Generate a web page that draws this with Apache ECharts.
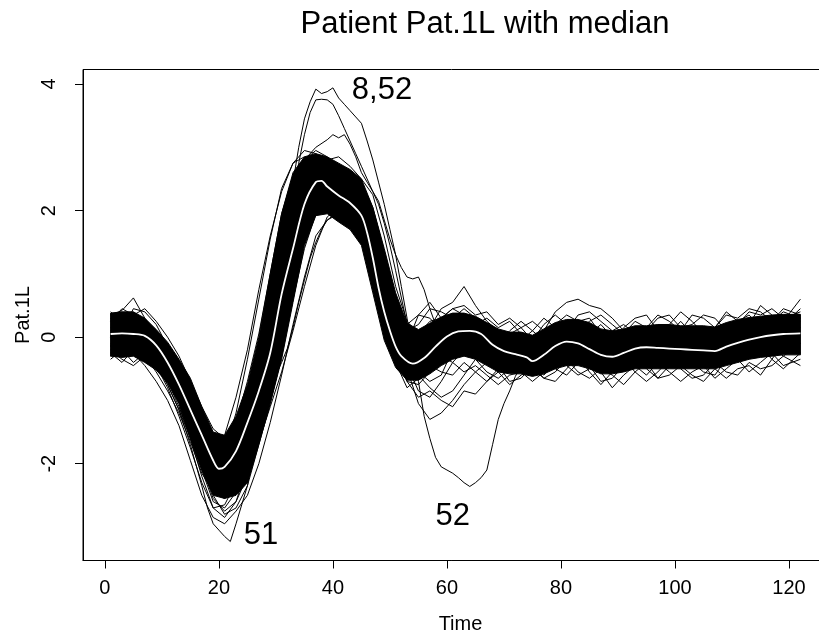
<!DOCTYPE html>
<html><head><meta charset="utf-8">
<script src="https://cdn.jsdelivr.net/npm/echarts@6/dist/echarts.min.js"></script>
<style>html,body{margin:0;padding:0;background:#fff}#c{width:819px;height:637px}</style>
</head><body><div id="c"></div>
<script>
const FONT = '"Liberation Sans", Arial, Helvetica, sans-serif';
const xTicks = [0,20,40,60,80,100,120];
const yTicks = [-2,0,2,4];

// common time grid for full curves and the dense band
const timeGrid = [1,3,5,7,9,11,13,15,17,19,21,23,25,27,29,31,33,35,37,39,41,43,45,47,49,51,53,55,57,59,61,63,65,67,69,71,73,75,77,79,81,83,85,87,89,91,93,95,97,99,101,103,105,107,109,111,113,115,117,119,122];

// dense core of the curve bundle (lower / upper envelope)
const bandLow = [-0.30,-0.32,-0.30,-0.40,-0.52,-0.72,-1.05,-1.60,-2.10,-2.50,
-2.55,-2.50,-2.30,-1.70,-1.05,-0.35,0.55,1.45,1.92,1.95,
1.82,1.70,1.45,0.70,-0.05,-0.48,-0.68,-0.68,-0.58,-0.45,
-0.35,-0.30,-0.35,-0.45,-0.55,-0.58,-0.58,-0.62,-0.58,-0.50,
-0.45,-0.45,-0.50,-0.58,-0.58,-0.55,-0.50,-0.50,-0.50,-0.50,
-0.50,-0.50,-0.50,-0.50,-0.45,-0.40,-0.35,-0.32,-0.30,-0.28,
-0.28];
const bandHigh = [0.38,0.40,0.40,0.30,0.12,-0.08,-0.35,-0.65,-1.10,-1.50,
-1.55,-1.25,-0.75,0.00,1.00,1.95,2.60,2.85,2.90,2.85,
2.75,2.65,2.50,2.05,1.40,0.70,0.22,0.12,0.22,0.32,
0.38,0.38,0.33,0.23,0.13,0.08,0.08,0.03,0.13,0.23,
0.28,0.28,0.23,0.13,0.10,0.13,0.18,0.18,0.20,0.20,
0.18,0.18,0.18,0.16,0.23,0.28,0.31,0.33,0.35,0.36,
0.36];

// individual curves on the time grid
const curveA = [0.35,0.42,0.62,0.30,0.05,-0.25,-0.60,-1.05,-1.50,-1.75,
-1.55,-0.95,-0.20,0.75,1.60,2.30,2.75,2.95,2.90,2.75,
2.55,2.30,1.70,0.90,0.20,-0.25,-0.10,0.35,0.30,0.10,
-0.05,-0.15,-0.30,-0.35,-0.20,0.05,0.15,-0.05,-0.20,-0.35,
-0.45,-0.20,0.05,0.20,0.00,-0.25,-0.40,-0.30,-0.05,0.15,
0.10,-0.15,-0.35,-0.20,0.10,0.25,0.35,0.15,-0.10,0.05,
0.30];
const curveB = [-0.25,-0.40,-0.20,-0.10,-0.35,-0.65,-1.05,-1.50,-2.00,-2.50,
-2.80,-2.70,-2.35,-1.70,-1.05,-0.30,0.60,1.40,1.95,2.15,
2.10,2.00,1.85,1.40,0.70,0.10,-0.45,-0.85,-0.95,-0.70,
-0.40,-0.20,-0.35,-0.55,-0.65,-0.50,-0.30,-0.45,-0.60,-0.40,
-0.15,-0.25,-0.45,-0.70,-0.65,-0.45,-0.30,-0.50,-0.65,-0.45,
-0.25,-0.40,-0.55,-0.60,-0.35,-0.15,-0.30,-0.10,0.05,-0.20,
-0.10];
const curveC = [0.30,0.10,0.45,0.40,0.20,-0.15,-0.45,-0.85,-1.25,-1.70,
-1.90,-1.55,-0.90,-0.15,0.80,1.75,2.45,2.80,2.75,2.60,
2.70,2.55,2.35,1.85,1.05,0.35,0.10,0.20,0.45,0.40,
0.30,0.45,0.30,0.05,-0.10,0.10,0.25,0.10,-0.05,0.20,
0.35,0.25,0.30,0.05,-0.10,0.15,0.30,0.35,0.10,0.20,
0.40,0.25,0.05,0.15,0.35,0.30,0.45,0.40,0.25,0.45,
0.35];
const curveD = [-0.20,-0.35,-0.45,-0.30,-0.55,-0.85,-1.20,-1.65,-2.15,-2.45,
-2.55,-2.40,-1.95,-1.30,-0.50,0.40,1.30,2.00,2.30,2.20,
2.00,1.90,1.75,1.20,0.40,-0.30,-0.70,-0.75,-0.55,-0.30,
-0.40,-0.55,-0.45,-0.60,-0.75,-0.60,-0.55,-0.70,-0.55,-0.30,
-0.45,-0.60,-0.50,-0.55,-0.80,-0.60,-0.45,-0.60,-0.40,-0.55,
-0.70,-0.55,-0.45,-0.65,-0.50,-0.35,-0.55,-0.40,-0.25,-0.45,
-0.35];
const curveE = [0.15,0.30,0.20,0.00,-0.25,-0.55,-0.95,-1.40,-1.85,-2.05,
-1.80,-1.20,-0.35,0.60,1.55,2.35,2.75,2.85,2.65,2.40,
2.30,2.15,1.55,0.80,0.05,-0.35,-0.45,-0.20,0.05,0.25,
0.20,-0.05,-0.20,-0.35,-0.40,-0.25,-0.35,-0.55,-0.40,-0.10,
0.05,-0.05,-0.25,-0.40,-0.35,-0.15,-0.05,-0.20,-0.35,-0.25,
0.00,-0.10,-0.30,-0.45,-0.25,-0.05,0.10,0.20,0.00,0.15,
0.25];
const curveF = [0.10,-0.05,-0.25,-0.45,-0.70,-1.00,-1.40,-1.95,-2.50,-2.85,
-2.95,-2.75,-2.50,-2.00,-1.35,-0.60,0.20,0.95,1.60,1.85,
1.95,1.80,1.65,1.35,0.90,0.35,-0.20,-0.60,-0.80,-0.95,
-0.85,-0.60,-0.35,-0.20,-0.30,-0.45,-0.35,-0.20,-0.30,-0.50,
-0.60,-0.40,-0.20,-0.35,-0.50,-0.40,-0.15,-0.05,-0.25,-0.40,
-0.30,-0.10,0.00,-0.20,-0.40,-0.30,-0.05,0.10,-0.15,-0.30,
-0.10];
const curveG = [0.25,0.45,0.35,0.15,-0.10,-0.35,-0.65,-1.00,-1.35,-1.55,
-1.65,-1.35,-0.70,0.05,1.00,1.95,2.55,2.80,2.95,2.85,
2.60,2.45,2.45,2.05,1.35,0.60,0.10,0.00,0.15,0.45,
0.55,0.80,0.50,0.25,0.10,0.00,-0.05,0.10,0.30,0.15,
0.10,0.35,0.40,0.25,0.10,0.20,0.05,0.10,0.30,0.35,
0.15,0.20,0.35,0.30,0.10,0.20,0.40,0.35,0.45,0.30,
0.40];
const curveH = [-0.10,0.05,-0.15,-0.30,-0.45,-0.80,-1.25,-1.75,-2.30,-2.70,
-2.65,-2.30,-1.75,-1.00,-0.20,0.75,1.65,2.30,2.55,2.45,
2.25,2.05,1.95,1.55,0.85,0.15,-0.50,-1.05,-1.30,-1.20,
-1.00,-0.75,-0.55,-0.40,-0.50,-0.35,-0.20,-0.35,-0.45,-0.25,
-0.20,-0.35,-0.30,-0.15,-0.30,-0.50,-0.35,-0.25,-0.40,-0.30,
-0.45,-0.35,-0.15,-0.30,-0.20,-0.40,-0.25,-0.15,-0.35,-0.10,
0.05];
const curveI = [0.00,0.20,0.10,-0.05,-0.30,-0.60,-1.00,-1.35,-1.80,-2.20,
-2.30,-2.05,-1.45,-0.75,0.10,1.05,1.85,2.45,2.70,2.60,
2.45,2.30,2.15,1.70,0.95,0.20,-0.30,-0.35,-0.10,0.15,
0.25,0.20,0.05,-0.10,-0.30,-0.40,-0.25,-0.10,0.10,0.40,
0.55,0.60,0.50,0.45,0.30,0.10,-0.05,0.05,0.00,-0.15,
-0.05,0.10,0.00,-0.15,0.00,0.15,0.05,0.20,0.30,0.25,
0.60];
const curveJ = [-0.30,-0.15,0.05,-0.20,-0.50,-0.70,-1.10,-1.55,-2.05,-2.55,
-2.75,-2.60,-2.05,-1.45,-0.75,0.10,1.00,1.75,2.15,2.25,
2.15,2.05,1.80,1.50,1.00,0.40,-0.15,-0.55,-0.70,-0.60,
-0.20,0.05,0.00,-0.25,-0.45,-0.70,-0.65,-0.45,-0.65,-0.70,
-0.50,-0.30,-0.55,-0.75,-0.55,-0.35,-0.55,-0.70,-0.55,-0.35,
-0.50,-0.65,-0.60,-0.40,-0.55,-0.60,-0.40,-0.50,-0.45,-0.30,
-0.45];
const curveP = [0.40,0.25,0.35,0.45,0.25,0.00,-0.30,-0.70,-1.10,-1.45,
-1.60,-1.45,-0.95,-0.30,0.55,1.45,2.20,2.65,2.85,2.80,
2.85,2.70,2.50,2.25,1.60,0.80,0.25,0.05,0.25,0.30,
0.45,0.35,0.20,0.30,0.15,0.25,0.05,-0.05,0.20,0.35,
0.20,0.10,0.25,0.35,0.20,0.05,0.25,0.15,0.35,0.25,
0.10,0.35,0.30,0.15,0.40,0.25,0.20,0.50,0.35,0.20,
0.45];
const curveQ = [-0.35,-0.20,-0.40,-0.25,-0.45,-0.75,-1.15,-1.60,-2.10,-2.60,
-2.70,-2.45,-2.15,-1.60,-0.90,-0.10,0.85,1.65,2.10,2.05,
1.90,1.80,1.60,1.00,0.25,-0.40,-0.80,-0.65,-0.45,-0.55,
-0.60,-0.40,-0.55,-0.70,-0.55,-0.75,-0.60,-0.50,-0.65,-0.55,
-0.35,-0.55,-0.65,-0.50,-0.60,-0.75,-0.55,-0.40,-0.65,-0.60,
-0.45,-0.60,-0.70,-0.50,-0.65,-0.50,-0.45,-0.60,-0.35,-0.50,
-0.25];
const curveR = [0.05,-0.10,0.15,0.25,0.00,-0.40,-0.85,-1.30,-1.70,-2.15,
-2.40,-2.20,-1.65,-1.00,-0.30,0.55,1.55,2.25,2.60,2.50,
2.35,2.20,2.05,1.65,0.75,-0.05,-0.55,-0.50,-0.25,-0.10,
0.10,0.25,0.15,-0.15,-0.25,-0.15,-0.40,-0.25,0.05,-0.05,
-0.25,0.00,-0.15,-0.45,-0.25,-0.30,0.00,-0.30,-0.15,-0.35,
-0.35,-0.05,-0.35,-0.30,-0.05,-0.20,0.00,-0.25,0.10,-0.05,
0.15];
const curveS = [-0.15,0.35,0.25,-0.10,-0.20,-0.50,-0.90,-1.25,-1.60,-2.00,
-2.20,-1.90,-1.25,-0.55,0.30,1.25,2.10,2.60,2.80,2.70,
2.55,2.40,2.25,1.90,1.15,0.35,-0.20,-0.25,0.00,0.25,
0.30,0.15,0.25,0.15,0.00,-0.20,-0.15,-0.30,-0.20,0.10,
0.20,0.15,0.05,-0.15,-0.20,0.05,0.15,-0.10,0.10,0.05,
0.25,0.05,-0.10,0.00,0.20,0.00,0.20,0.05,0.25,0.40,
0.30];

// outlying / partly visible curves, each with its own times
const curve8T = [25,27,29,30,31,32,33,34,35,36,37,38,39,40,41,42,43,44,45,46,47,48,49,50,51,52,53,54,55,56,57,58,59,61,63];
const curve8V = [-2.3,-1.6,-0.6,0.1,0.8,1.5,2.2,2.75,3.2,3.55,3.75,3.76,3.75,3.68,3.5,3.3,3.1,2.9,2.7,2.5,2.3,2.15,1.85,1.55,1.3,1.1,0.95,0.92,0.95,0.75,0.45,0.2,0.05,-0.1,-0.05];
const curve52T = [25,27,29,30,31,32,33,34,35,36,37,38,39,40,41,42,43,44,45,46,47,48,49,50,51,52,53,54,55,56,57,58,59,60,61,62,63,64,65,66,67,68,69,70,71,72,73,74,75,77];
const curve52V = [-2.2,-1.4,-0.3,0.4,1.1,1.8,2.45,3.0,3.45,3.72,3.92,3.85,3.88,3.94,3.78,3.68,3.58,3.48,3.38,3.1,2.8,2.45,2.1,1.7,1.3,0.8,0.3,-0.2,-0.7,-1.25,-1.6,-1.9,-2.05,-2.1,-2.15,-2.22,-2.3,-2.36,-2.3,-2.22,-2.1,-1.7,-1.3,-1.05,-0.85,-0.62,-0.45,-0.35,-0.3,-0.35];
const curve51T = [7,9,11,13,15,17,18,19,20,21,22,23,24,25,26,27,28,29,30,31,32,33,34,35,36,37,38,39,40,41,42,43,44,45,47,49,51,53];
const curve51V = [-0.25,-0.45,-0.75,-1.15,-1.7,-2.35,-2.7,-2.95,-3.05,-3.15,-3.23,-2.95,-2.65,-2.35,-1.85,-1.4,-1.1,-0.8,-0.6,-0.4,-0.18,0.15,0.55,0.9,1.25,1.5,1.7,1.85,1.92,1.9,1.85,1.8,1.75,1.6,1.2,0.7,0.2,-0.3];
const curveKT = [29,31,33,35,37,39,40,41,42,43,44,45,46,47,48,49,50,51,53,55];
const curveKV = [0.9,1.7,2.3,2.8,3.0,3.12,3.2,3.15,3.2,3.05,2.85,2.6,2.45,2.3,2.1,1.8,1.45,1.05,0.2,-0.1];
const curveLT = [13,15,17,19,21,23,25,27,29,31,33,35,37,39,41,43,45,47];
const curveLV = [-1.1,-1.6,-2.2,-2.7,-2.85,-2.6,-2.2,-1.65,-1.1,-0.55,0.1,0.8,1.45,1.9,2.05,1.95,1.8,1.4];
const curveMT = [47,49,51,53,55,57,59,61,63,65,67,69,71,73,75,77];
const curveMV = [0.9,0.3,-0.25,-0.7,-0.95,-0.85,-1.0,-1.1,-0.85,-0.9,-0.7,-0.5,-0.55,-0.4,-0.3,-0.35];
const curveNT = [47,49,51,53,55,57,59,61,63,65,67,69,71,73,75,77];
const curveNV = [1.8,1.1,0.5,0.2,0.35,0.55,0.3,0.45,0.5,0.35,0.4,0.2,0.3,0.15,0.25,0.1];

// median curve (white)
const medianT = [1,3,5,7,9,11,13,15,17,19,20,21,23,25,27,29,31,33,35,37,38,39,41,43,45,46,47,48,49,50,51,52,54,56,58,60,62,64,66,68,70,72,74,75,77,79,81,83,85,87,89,91,93,95,97,99,101,103,105,107,109,111,113,115,117,119,122];
const medianV = [0.05,0.06,0.05,0.02,-0.13,-0.40,-0.75,-1.15,-1.55,-1.95,
-2.08,-2.05,-1.80,-1.35,-0.85,-0.25,0.68,1.40,2.10,2.45,
2.47,2.38,2.24,2.12,1.92,1.65,1.25,0.78,0.40,0.10,
-0.15,-0.30,-0.42,-0.33,-0.15,0.01,0.09,0.10,0.05,-0.12,
-0.22,-0.27,-0.32,-0.38,-0.28,-0.14,-0.07,-0.10,-0.19,-0.28,
-0.31,-0.25,-0.18,-0.16,-0.17,-0.18,-0.19,-0.20,-0.21,-0.22,
-0.15,-0.09,-0.04,0.00,0.03,0.05,0.06];

// outlier labels
const labelText = ['8,52','51','52'];
const labelT = [48.6, 27.4, 61.0];
const labelV = [3.90, -3.13, -2.83];

const fullCurves = [curveA,curveB,curveC,curveD,curveE,curveF,curveG,curveH,curveI,curveJ,curveP,curveQ,curveR,curveS];
const partCurves = [[curveKT,curveKV],[curveLT,curveLV],[curveMT,curveMV],[curveNT,curveNV],[curve51T,curve51V],[curve8T,curve8V],[curve52T,curve52V]];

const series = [];
series.push({
  type: 'custom', silent: true, z: 1,
  data: [[timeGrid[0], bandLow[0]]],
  renderItem: function (params, api) {
    const pts = [];
    for (let i = 0; i < timeGrid.length; i++) pts.push(api.coord([timeGrid[i], bandHigh[i]]));
    for (let i = timeGrid.length - 1; i >= 0; i--) pts.push(api.coord([timeGrid[i], bandLow[i]]));
    return {type: 'polygon', shape: {points: pts}, style: {fill: '#000', stroke: '#000', lineWidth: 1}};
  }
});
function lineSeries(data, color, width, z, smooth) {
  return {type: 'line', data: data, showSymbol: false, symbol: 'none', silent: true, z: z,
          smooth: smooth || false,
          lineStyle: {color: color, width: width}, emphasis: {disabled: true}};
}
fullCurves.forEach(c => series.push(lineSeries(timeGrid.map((t, i) => [t, c[i]]), '#000', 1, 2)));
partCurves.forEach(p => series.push(lineSeries(p[0].map((t, i) => [t, p[1][i]]), '#000', 1, 2)));
series.push(lineSeries(medianT.map((t, i) => [t, medianV[i]]), '#fff', 1.8, 5, 0.3));
series.push({
  type: 'scatter', symbolSize: 0, silent: true, z: 6,
  itemStyle: {opacity: 1},
  data: labelT.map((t, i) => ({value: [t, labelV[i]], label: {formatter: labelText[i]}})),
  label: {show: true, position: 'inside', align: 'center', verticalAlign: 'middle',
          fontSize: 31, color: '#000', opacity: 1, fontFamily: FONT}
});

const chart = echarts.init(document.getElementById('c'), null, {renderer: 'canvas'});
chart.setOption({
  animation: false,
  backgroundColor: '#fff',
  grid: {left: 83, top: 69.5, width: 745, height: 491, show: true, borderColor: '#000', borderWidth: 1,
         backgroundColor: 'transparent', containLabel: false, outerBoundsMode: 'none'},
  xAxis: {
    type: 'value', min: -3.84, max: 126.84,
    axisLine: {show: true, onZero: false, lineStyle: {color: '#000', width: 1}},
    axisTick: {show: true, length: 8, customValues: xTicks, lineStyle: {color: '#000', width: 1}},
    axisLabel: {customValues: xTicks, fontSize: 20, color: '#000', margin: 18, fontFamily: FONT},
    splitLine: {show: false}
  },
  yAxis: {
    type: 'value', min: -3.53, max: 4.23,
    axisLine: {show: true, onZero: false, lineStyle: {color: '#000', width: 1}},
    axisTick: {show: true, length: 8, customValues: yTicks, lineStyle: {color: '#000', width: 1}},
    axisLabel: {customValues: yTicks, rotate: 90, fontSize: 20, color: '#000', margin: 24, fontFamily: FONT},
    splitLine: {show: false}
  },
  graphic: [
    {type: 'text', x: 485, y: 24, silent: true,
     style: {text: 'Patient Pat.1L with median', fontSize: 31, fontFamily: FONT, fill: '#000', align: 'center', verticalAlign: 'middle'}},
    {type: 'text', x: 460.5, y: 624, silent: true,
     style: {text: 'Time', fontSize: 20, fontFamily: FONT, fill: '#000', align: 'center', verticalAlign: 'middle'}},
    {type: 'text', x: 23, y: 315, rotation: Math.PI / 2, silent: true,
     style: {text: 'Pat.1L', fontSize: 20, fontFamily: FONT, fill: '#000', align: 'center', verticalAlign: 'middle'}}
  ],
  series: series
});
</script>
</body></html>
